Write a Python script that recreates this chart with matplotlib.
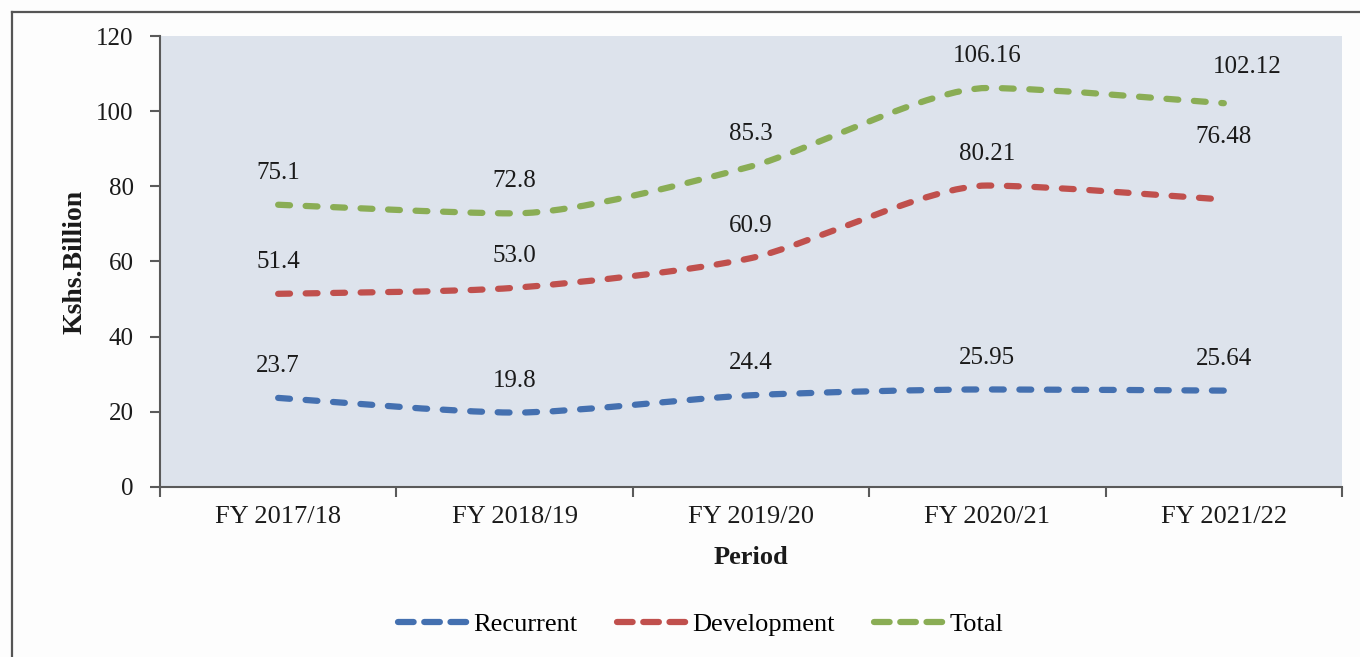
import numpy as np
import matplotlib
matplotlib.use('Agg')
import matplotlib.pyplot as plt
from matplotlib.path import Path
from matplotlib.patches import PathPatch
from matplotlib.lines import Line2D

matplotlib.rcParams['font.family'] = 'serif'
matplotlib.rcParams['font.serif'] = ['Liberation Serif', 'DejaVu Serif']

# Datos del gráfico
periods = ['FY 2017/18', 'FY 2018/19', 'FY 2019/20', 'FY 2020/21', 'FY 2021/22']
recurrent = [23.7, 19.8, 24.4, 25.95, 25.64]
development = [51.4, 53.0, 60.9, 80.21, 76.48]
total = [75.1, 72.8, 85.3, 106.16, 102.12]
labels_rec = ['23.7', '19.8', '24.4', '25.95', '25.64']
labels_dev = ['51.4', '53.0', '60.9', '80.21', '76.48']
labels_tot = ['75.1', '72.8', '85.3', '106.16', '102.12']

series = [
    ('Recurrent', recurrent, labels_rec, '#4470b0'),
    ('Development', development, labels_dev, '#c0504d'),
    ('Total', total, labels_tot, '#8aad55'),
]

# desplazamientos especiales de etiquetas (en puntos)
nudges = {('Development', 4): (0, 45), ('Total', 4): (17, 26)}


def smooth_path(xs, ys, k=1 / 8.0):
    # Curva suavizada (Bezier), tangente plana en los extremos locales
    pts = np.column_stack([xs, ys]).astype(float)
    n = len(pts)
    tang = np.zeros_like(pts)
    for i in range(n):
        prev = pts[i - 1] if i > 0 else pts[i]
        nxt = pts[i + 1] if i + 1 < n else pts[i]
        tang[i] = (nxt - prev) * k
        if 0 < i < n - 1 and (pts[i, 1] - prev[1]) * (nxt[1] - pts[i, 1]) <= 0:
            tang[i, 1] = 0.0
    verts = [pts[0]]
    codes = [Path.MOVETO]
    for i in range(n - 1):
        verts += [pts[i] + tang[i], pts[i + 1] - tang[i + 1], pts[i + 1]]
        codes += [Path.CURVE4] * 3
    return Path(verts, codes)


fig = plt.figure(figsize=(13.6, 6.57), dpi=100)
fig.patch.set_facecolor('#fdfdfd')
ax = fig.add_axes([0.1176, 0.2588, 0.8692, 0.6864])
ax.set_facecolor('#dde3ec')

x = np.arange(len(periods))
for name, vals, labs, col in series:
    patch = PathPatch(smooth_path(x, vals), fill=False, edgecolor=col, lw=4.5,
                      linestyle=(0, (1.9, 2.5)), capstyle='round', zorder=3)
    ax.add_patch(patch)
    for i, (v, t) in enumerate(zip(vals, labs)):
        dx, dy = nudges.get((name, i), (0, 23))
        ax.annotate(t, (x[i], v), xytext=(dx, dy), textcoords='offset points',
                    ha='center', va='center', fontsize=18, color='#1a1a1a')

ax.set_xlim(-0.5, len(periods) - 0.5)
ax.set_ylim(0, 120)
ax.set_yticks(np.arange(0, 121, 20))
ax.set_xticks(x)
ax.set_xticklabels(periods, fontsize=19, color='#1a1a1a')
ax.set_xticks(np.arange(-0.5, len(periods), 1), minor=True)
ax.tick_params(axis='x', which='major', length=0, pad=14)
ax.tick_params(axis='x', which='minor', length=7, width=1.5, color='#5a5a5a')
ax.tick_params(axis='y', length=7, width=1.5, color='#5a5a5a', pad=12,
               labelsize=18, labelcolor='#1a1a1a')

for s in ['top', 'right']:
    ax.spines[s].set_visible(False)
for s in ['left', 'bottom']:
    ax.spines[s].set_color('#5a5a5a')
    ax.spines[s].set_linewidth(1.5)

ax.set_xlabel('Period', fontsize=19, fontweight='bold', color='#1a1a1a', labelpad=13)
ax.set_ylabel('Kshs.Billion', fontsize=20, fontweight='bold', color='#1a1a1a', labelpad=6)

# Leyenda con manejadores propios
handles = [Line2D([], [], color=col, lw=4.5, linestyle=(0, (2.5, 1.7)),
                  dash_capstyle='round') for _, _, _, col in series]
fig.legend(handles, [s[0] for s in series], loc='center', bbox_to_anchor=(0.515, 0.05),
           ncol=3, frameon=False, fontsize=19, handlelength=2.7,
           handletextpad=0.15, columnspacing=1.5)

# Marco exterior
fig.add_artist(Line2D([12 / 1360, 1.0], [1 - 12 / 657, 1 - 12 / 657],
                      transform=fig.transFigure, color='#555555', lw=1.6))
fig.add_artist(Line2D([12 / 1360, 12 / 1360], [0.0, 1 - 12 / 657],
                      transform=fig.transFigure, color='#555555', lw=1.6))

fig.savefig('out.png', dpi=100, facecolor=fig.get_facecolor())
